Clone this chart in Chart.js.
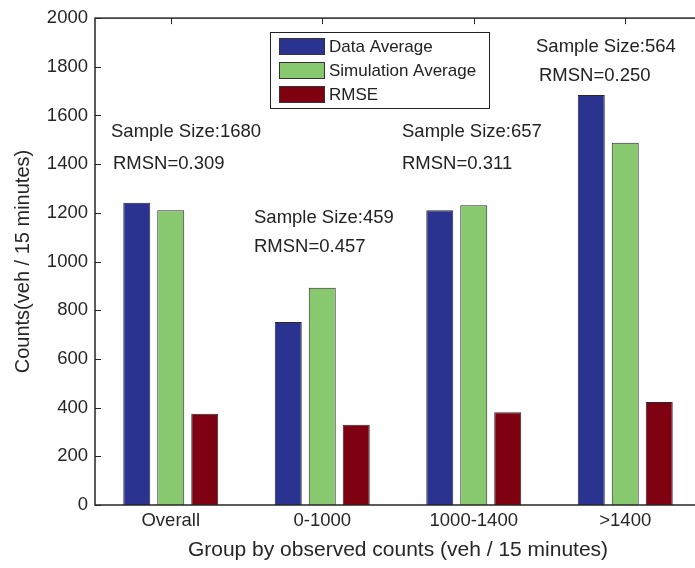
<!DOCTYPE html>
<html>
<head>
<meta charset="utf-8">
<script src="https://cdn.jsdelivr.net/npm/chart.js@4.4.1/dist/chart.umd.min.js"></script>
<style>
html,body{margin:0;padding:0;background:#fff;overflow:hidden;}
#wrap{width:702px;height:568px;}
</style>
</head>
<body>
<div id="wrap"><canvas id="c" width="702" height="568"></canvas></div>
<script>
// ---- data ----
const categories = ["Overall", "0-1000", "1000-1400", ">1400"];
const dataAverage = [1242, 752, 1211, 1684];
const simulationAverage = [1211, 892, 1231, 1488];
const rmse = [375, 330, 381, 423];
const sampleSizes = [1680, 459, 657, 564];
const rmsn = ["0.309", "0.457", "0.311", "0.250"];
const yTicks = [0, 200, 400, 600, 800, 1000, 1200, 1400, 1600, 1800, 2000];
const seriesNames = ["Data Average", "Simulation Average", "RMSE"];
const seriesColors = ["#2B3391", "#88C970", "#7F0010"];

const FONT = "'Liberation Sans', Arial, Helvetica, sans-serif";
const AX = "#262626";

// annotation placement (pixels: left x, baselines)
const annoPos = [
  {x: 111, y1: 137, x2: 113, y2: 169},
  {x: 254, y1: 223, x2: 254, y2: 252},
  {x: 402, y1: 137, x2: 402, y2: 169},
  {x: 536, y1: 52, x2: 539, y2: 81}
];

const framePlugin = {
  id: 'frame',
  beforeDatasetsDraw(chart) {
    const {ctx, chartArea: a, scales: {x}} = chart;
    ctx.save();
    ctx.strokeStyle = AX; ctx.lineWidth = 1;
    categories.forEach((c, i) => {
      const px = Math.round(x.getPixelForValue(i)) + 0.5;
      ctx.beginPath(); ctx.moveTo(px, a.bottom); ctx.lineTo(px, a.bottom - 6); ctx.stroke();
    });
    ctx.restore();
  },
  afterDatasetsDraw(chart) {
    const {ctx, chartArea: a, scales: {x, y}} = chart;
    ctx.save();
    ctx.strokeStyle = AX;
    ctx.lineWidth = 1;
    yTicks.forEach(v => {
      const py = Math.round(y.getPixelForValue(v)) + 0.5;
      ctx.beginPath(); ctx.moveTo(a.left, py); ctx.lineTo(a.left + 6, py); ctx.stroke();
      ctx.beginPath(); ctx.moveTo(a.right, py); ctx.lineTo(a.right - 6, py); ctx.stroke();
    });
    categories.forEach((c, i) => {
      const px = Math.round(x.getPixelForValue(i)) + 0.5;
      ctx.beginPath(); ctx.moveTo(px, a.top); ctx.lineTo(px, a.top + 6); ctx.stroke();
    });
    ctx.lineWidth = 1.5;
    ctx.strokeRect(a.left, a.top, a.right - a.left, a.bottom - a.top);

    // annotations
    ctx.fillStyle = "#222";
    ctx.font = "18.5px " + FONT;
    ctx.textBaseline = "alphabetic";
    ctx.textAlign = "left";
    sampleSizes.forEach((s, i) => {
      const p = annoPos[i];
      ctx.fillText("Sample Size:" + s, p.x, p.y1);
      ctx.fillText("RMSN=" + rmsn[i], p.x2, p.y2);
    });

    // legend box
    const lx = 270, ly = 32, lw = 219, lh = 76;
    ctx.fillStyle = "#fff";
    ctx.fillRect(lx, ly, lw, lh);
    ctx.lineWidth = 1;
    ctx.strokeStyle = "#222";
    ctx.strokeRect(lx + 0.5, ly + 0.5, lw, lh);
    ctx.font = "17px " + FONT;
    ctx.textBaseline = "middle";
    chart.data.datasets.forEach((ds, i) => {
      const cy = ly + 14 + i * 24;
      ctx.fillStyle = ds.backgroundColor;
      ctx.fillRect(279, cy - 8, 45, 16);
      ctx.strokeStyle = "#333";
      ctx.strokeRect(279.5, cy - 7.5, 45, 16);
      ctx.fillStyle = "#222";
      ctx.fillText(ds.label, 329, cy + 1);
    });
    ctx.restore();
  }
};

new Chart(document.getElementById('c'), {
  type: 'bar',
  data: {
    labels: categories,
    datasets: [
      {label: seriesNames[0], data: dataAverage, backgroundColor: seriesColors[0]},
      {label: seriesNames[1], data: simulationAverage, backgroundColor: seriesColors[1]},
      {label: seriesNames[2], data: rmse, backgroundColor: seriesColors[2]}
    ].map(d => Object.assign(d, {
      borderColor: "#2a2a2a", borderWidth: 1,
      categoryPercentage: 0.673, barPercentage: 0.794
    }))
  },
  options: {
    responsive: false,
    devicePixelRatio: 1,
    animation: false,
    layout: {padding: {top: 15, right: 1, left: 0, bottom: 0}},
    plugins: {legend: {display: false}, tooltip: {enabled: false}},
    scales: {
      x: {
        grid: {display: false, drawTicks: false},
        border: {display: false},
        ticks: {color: AX, font: {family: FONT, size: 18.5}, padding: 5, maxRotation: 0},
        title: {display: true, text: "Group by observed counts (veh / 15 minutes)", color: AX,
                font: {family: FONT, size: 21}, padding: {bottom: 5, top: 0}},
        afterFit(s) { s.height = 63; }
      },
      y: {
        min: 0, max: 2000,
        afterBuildTicks(s) { s.ticks = yTicks.map(v => ({value: v})); },
        grid: {display: false, drawTicks: false},
        border: {display: false},
        ticks: {color: AX, font: {family: FONT, size: 18.5}, padding: 7,
                callback: v => String(v)},
        title: {display: true, text: "Counts(veh / 15 minutes)", color: AX,
                font: {family: FONT, size: 20}, padding: {top: 11, bottom: 0}},
        afterFit(s) { s.width = 95; }
      }
    }
  },
  plugins: [framePlugin]
});
</script>
</body>
</html>
